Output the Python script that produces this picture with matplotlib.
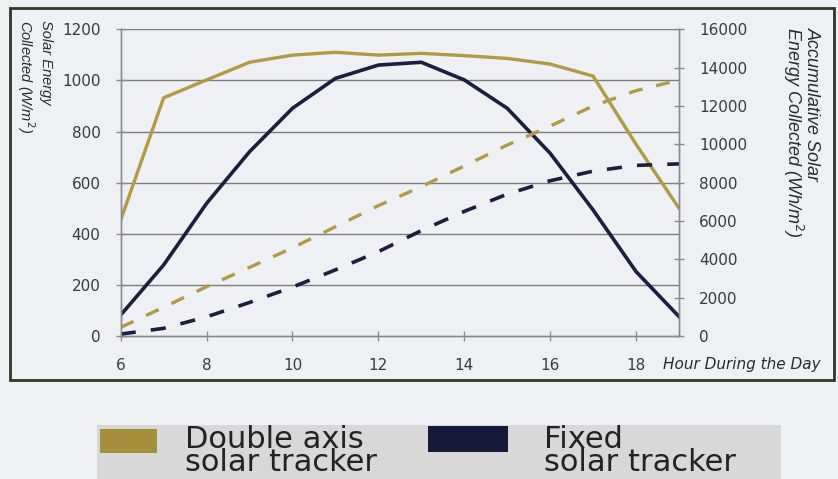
import matplotlib.pyplot as plt
import matplotlib.patches as mpatches

# hours of the day
hours = [6, 7, 8, 9, 10, 11, 12, 13, 14, 15, 16, 17, 18, 19]

# solar energy collected (W/m2), left axis
double_axis = [454, 932, 1002, 1071, 1099, 1110, 1099, 1106, 1097, 1086, 1064, 1017, 750, 500]
fixed = [82, 278, 519, 721, 891, 1008, 1060, 1071, 1002, 891, 715, 493, 252, 76]

# accumulative solar energy collected (Wh/m2), right axis
double_axis_acc = [450, 1500, 2570, 3580, 4600, 5700, 6800, 7790, 8870, 9960, 10950, 12000, 12800, 13350]
fixed_acc = [100, 400, 1000, 1750, 2550, 3450, 4400, 5500, 6500, 7400, 8100, 8600, 8900, 8980]

left_ticks = [0, 200, 400, 600, 800, 1000, 1200]
right_ticks = [0, 2000, 4000, 6000, 8000, 10000, 12000, 14000, 16000]
x_ticks = [6, 8, 10, 12, 14, 16, 18]

gold = '#b09a45'
navy = '#1b1e3e'
W, H = 838, 479

def fx(px):
    return px / W

def fy(py):
    return 1 - py / H

fig = plt.figure(figsize=(W / 100, H / 100), dpi=100, facecolor='#eef0f3')
ax = fig.add_axes([fx(120.7), fy(336), fx(679) - fx(120.7), fy(29.3) - fy(336)])
ax.set_facecolor('none')
ax2 = ax.twinx()

ax.plot(hours, double_axis, color=gold, lw=2.4, solid_joinstyle='miter')
ax.plot(hours, fixed, color=navy, lw=2.6, solid_joinstyle='miter')
ax2.plot(hours, double_axis_acc, color=gold, lw=2.4, linestyle=(0, (4.2, 4.2)))
ax2.plot(hours, fixed_acc, color=navy, lw=2.6, linestyle=(0, (4.2, 4.2)))

ax.set_xlim(6, 19)
ax.set_ylim(0, 1200)
ax2.set_ylim(0, 16000)
ax.set_xticks(x_ticks)
ax.set_yticks(left_ticks)
ax2.set_yticks(right_ticks)

# horizontal grid from the left axis
for v in left_ticks[1:]:
    ax.axhline(v, color='#7d7d7d', lw=1.0, zorder=0)

for a in (ax, ax2):
    for s in a.spines.values():
        s.set_color('#8a8a8a')
        s.set_linewidth(1.0)
    a.spines['top'].set_visible(False)

ax.tick_params(axis='both', direction='inout', length=7, width=1, color='#8a8a8a',
               labelsize=11, labelcolor='#3a3a3a')
ax.tick_params(axis='y', pad=11)
ax.tick_params(axis='x', pad=12)
ax2.tick_params(axis='y', direction='inout', length=7, width=1, color='#8a8a8a',
                labelsize=11, labelcolor='#3a3a3a', pad=11)

# axis titles
fig.text(fx(34), fy(20), 'Solar Energy\nCollected (W/m$^2$)', rotation=270, ha='center', va='top',
         fontsize=10.5, family='Liberation Sans', style='italic', color='#2a2a2a',
         linespacing=1.1, multialignment='left')
fig.text(fx(801), fy(27), 'Accumulative Solar\nEnergy Collected (Wh/m$^2$)', rotation=270,
         ha='center', va='top', fontsize=13, family='Liberation Sans', style='italic',
         color='#2a2a2a', linespacing=0.95, multialignment='left')
fig.text(fx(663), fy(364), 'Hour During the Day', ha='left', va='center', fontsize=11,
         style='italic', color='#2a2a2a')

# outer frame
fig.patches.append(mpatches.Rectangle((fx(10), fy(380)), fx(834) - fx(10), fy(8) - fy(380),
                                      transform=fig.transFigure, fill=False,
                                      edgecolor='#2b3a26', lw=2))

# legend strip
fig.patches.append(mpatches.Rectangle((fx(97), 0), fx(781) - fx(97), fy(425),
                                      transform=fig.transFigure, color='#d8d8d8', lw=0))
fig.patches.append(mpatches.Rectangle((fx(100), fy(453)), fx(157) - fx(100), fy(429) - fy(453),
                                      transform=fig.transFigure, color='#a58f3c', lw=0))
fig.patches.append(mpatches.Rectangle((fx(428), fy(452)), fx(508) - fx(428), fy(426) - fy(452),
                                      transform=fig.transFigure, color='#161a38', lw=0))
fig.text(fx(185), fy(451), 'Double axis\nsolar tracker', ha='left', va='center',
         fontsize=22, color='#222222', linespacing=0.78)
fig.text(fx(544), fy(451), 'Fixed\nsolar tracker', ha='left', va='center',
         fontsize=22, color='#222222', linespacing=0.78)

fig.savefig('out.png', dpi=100, facecolor=fig.get_facecolor())
